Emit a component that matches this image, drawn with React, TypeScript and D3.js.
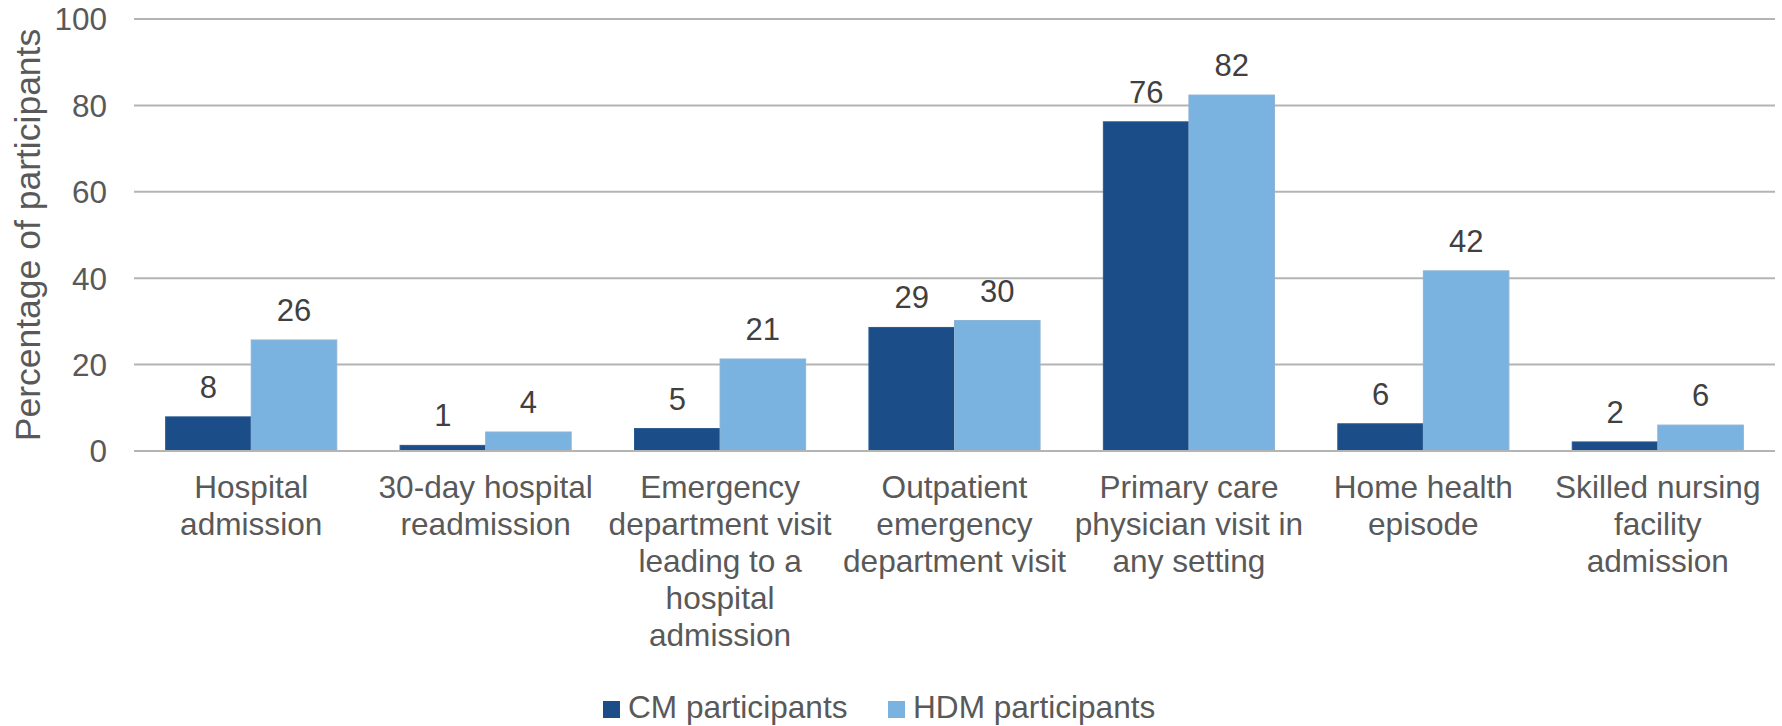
import React from "react";
import * as d3 from "d3";

const categories: string[][] = [
  ["Hospital", "admission"],
  ["30-day hospital", "readmission"],
  ["Emergency", "department visit", "leading to a", "hospital", "admission"],
  ["Outpatient", "emergency", "department visit"],
  ["Primary care", "physician visit in", "any setting"],
  ["Home health", "episode"],
  ["Skilled nursing", "facility", "admission"],
];

const seriesNames = ["CM participants", "HDM participants"];
const cmValues = [7.9, 1.3, 5.2, 28.6, 76.2, 6.3, 2.1];
const hdmValues = [25.7, 4.4, 21.3, 30.2, 82.4, 41.7, 6.0];
const yTicks = [0, 20, 40, 60, 80, 100];
const colors = ["#1B4E88", "#7AB3DF"];
const yTitle = "Percentage of participants";

export default function App() {
  const W = 1782;
  const H = 726;
  const left = 134;
  const right = 1775;
  const top = 19;
  const bottom = 451;
  const font = "'Liberation Sans', Arial, sans-serif";
  const textColor = "#595959";

  const idx = categories.map((_, i) => String(i));
  const x0 = d3.scaleBand<string>().domain(idx).range([left, right]).paddingInner(0).paddingOuter(0);
  const groupW = x0.step() * 0.73;
  const x1 = d3.scaleBand<string>().domain(seriesNames).range([0, groupW]).padding(0);
  const y = d3.scaleLinear().domain([0, 100]).range([bottom, top]);

  const series = [cmValues, hdmValues];

  return (
    <svg width={W} height={H} style={{ position: "absolute", left: 0, top: 0, background: "#fff" }} fontFamily={font}>
      <rect x={0} y={0} width={W} height={H} fill="#fff" />
      {yTicks.map((t) => (
        <g key={t}>
          <line x1={left} x2={right} y1={y(t)} y2={y(t)} stroke="#B4B4B4" strokeWidth={2} />
          <text x={107} y={y(t)} dy="0.36em" textAnchor="end" fontSize={31.5} fill={textColor}>
            {t}
          </text>
        </g>
      ))}
      <text
        transform={`translate(40, ${(top + bottom) / 2}) rotate(-90)`}
        textAnchor="middle"
        fontSize={35.5}
        fill={textColor}
      >
        {yTitle}
      </text>
      {idx.map((c, i) => {
        const gx = (x0(c) as number) + (x0.bandwidth() - groupW) / 2;
        return (
          <g key={c}>
            {series.map((vals, s) => {
              const bx = gx + (x1(seriesNames[s]) as number);
              const by = y(vals[i]);
              return (
                <g key={s}>
                  <rect
                    x={bx}
                    y={by}
                    width={x1.bandwidth()}
                    height={bottom - by}
                    fill={colors[s]}
                    stroke={s === 0 ? "#2A5A90" : "#8DB3D6"}
                    strokeWidth={1}
                  />
                  <text
                    x={bx + x1.bandwidth() / 2}
                    y={by - 19}
                    textAnchor="middle"
                    fontSize={31}
                    fill="#404040"
                  >
                    {Math.round(vals[i])}
                  </text>
                </g>
              );
            })}
            {categories[i].map((line, li) => (
              <text
                key={li}
                x={(x0(c) as number) + x0.bandwidth() / 2}
                y={498 + li * 37}
                textAnchor="middle"
                fontSize={31.6}
                fill={textColor}
              >
                {line}
              </text>
            ))}
          </g>
        );
      })}
      <line x1={left} x2={right} y1={bottom} y2={bottom} stroke="#B4B4B4" strokeWidth={2} />
      {seriesNames.map((n, s) => {
        const lx = s === 0 ? 603 : 888;
        return (
          <g key={n}>
            <rect x={lx} y={701} width={17} height={17} fill={colors[s]} />
            <text x={lx + 25} y={718} fontSize={31.6} fill={textColor}>
              {n}
            </text>
          </g>
        );
      })}
    </svg>
  );
}
